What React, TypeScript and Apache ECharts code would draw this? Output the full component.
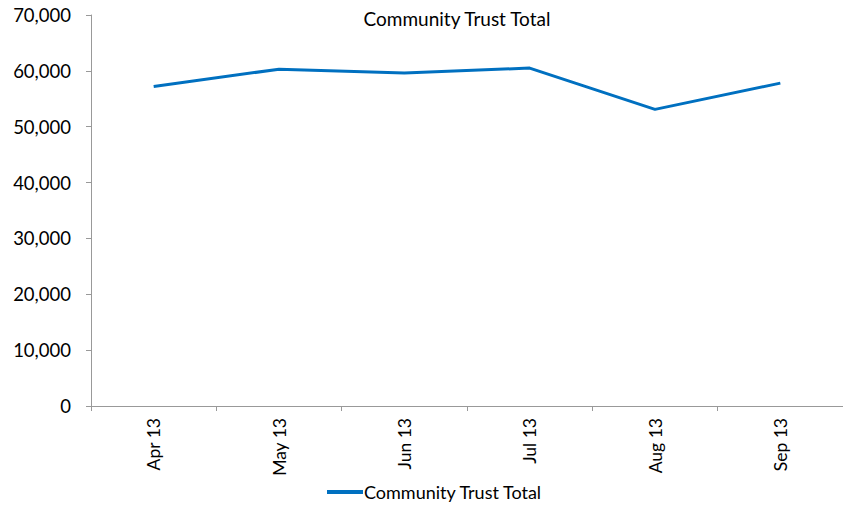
import React, { useEffect, useRef } from "react";
import * as echarts from "echarts";

const categories = ["Apr 13", "May 13", "Jun 13", "Jul 13", "Aug 13", "Sep 13"];
const totals = [57200, 60300, 59600, 60500, 53100, 57800];
const seriesName = "Community Trust Total";

export default function App() {
  const ref = useRef<HTMLDivElement>(null);
  useEffect(() => {
    document.body.style.margin = "0";
    const chart = echarts.init(ref.current!, null, { renderer: "svg" });
    const font = "Lato, 'Open Sans', sans-serif";
    chart.setOption({
      animation: false,
      backgroundColor: "#ffffff",
      title: {
        text: seriesName,
        left: 452,
        top: 4,
        textAlign: "center",
        textStyle: { fontFamily: font, fontSize: 19, fontWeight: "normal", color: "#000" },
      },
      legend: {
        top: 483,
        left: 327,
        padding: 0,
        itemWidth: 36,
        itemHeight: 4,
        itemGap: 2,
        icon: "rect",
        data: [seriesName],
        textStyle: { fontFamily: font, fontSize: 18, color: "#000", padding: [0, 0, 0, -4] },
      },
      grid: { left: 91, top: 15, width: 762, height: 391, containLabel: false },
      xAxis: {
        type: "category",
        data: categories,
        boundaryGap: true,
        axisLine: { lineStyle: { color: "#999", width: 1 } },
        axisTick: { show: true, length: 5, lineStyle: { color: "#999" } },
        axisLabel: { rotate: 90, margin: 12, fontFamily: font, fontSize: 17.5, color: "#000" },
      },
      yAxis: {
        type: "value",
        min: 0,
        max: 70000,
        interval: 10000,
        axisLine: { show: true, lineStyle: { color: "#999", width: 1 } },
        axisTick: { show: true, length: 5, lineStyle: { color: "#999" } },
        splitLine: { show: false },
        axisLabel: {
          margin: 20,
          fontFamily: font,
          fontSize: 18.5,
          color: "#000",
          formatter: (v: number) => v.toLocaleString("en-US"),
        },
      },
      series: [
        {
          name: seriesName,
          type: "line",
          data: totals,
          symbol: "none",
          lineStyle: { color: "#0070C0", width: 3 },
          itemStyle: { color: "#0070C0" },
        },
      ],
    });
    return () => chart.dispose();
  }, []);
  return <div ref={ref} style={{ width: 843, height: 506 }} />;
}
